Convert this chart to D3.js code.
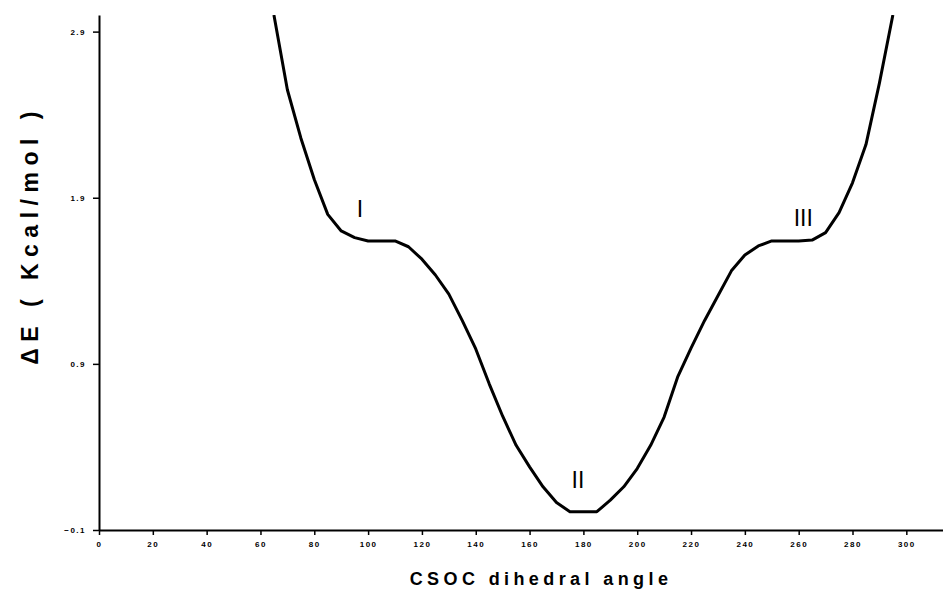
<!DOCTYPE html>
<html>
<head>
<meta charset="utf-8">
<script src="https://cdn.jsdelivr.net/npm/d3@7"></script>
<style>
  body { margin: 0; background: #fff; }
  svg { display: block; font-family: "Liberation Sans", Arial, sans-serif; }
</style>
</head>
<body>
<div id="main"></div>
<script>
// data (degrees, kcal/mol)
const angles = [65, 70, 75, 80, 85, 90, 95, 100, 105, 110, 115, 120, 125, 130, 135, 140,
    145, 150, 155, 160, 165, 170, 175, 180, 185, 190, 195, 200, 205, 210, 215, 220,
    225, 230, 235, 240, 245, 250, 255, 260, 265, 270, 275, 280, 285, 290, 295];
const energies = [3.0, 2.55, 2.26, 2.01, 1.80, 1.70, 1.66, 1.64, 1.64, 1.64, 1.605, 1.53, 1.435, 1.32, 1.16, 0.99,
    0.78, 0.585, 0.41, 0.28, 0.16, 0.065, 0.01, 0.01, 0.01, 0.08, 0.16, 0.27, 0.41, 0.58, 0.82, 0.995,
    1.16, 1.31, 1.46, 1.555, 1.61, 1.64, 1.64, 1.64, 1.645, 1.69, 1.81, 1.99, 2.22, 2.59, 3.0];
const xTicks = [0, 20, 40, 60, 80, 100, 120, 140, 160, 180, 200, 220, 240, 260, 280, 300];
const yTicks = [-0.1, 0.9, 1.9, 2.9];
const conformerNames = ['I', 'II', 'III'];
const conformerAngles = [97, 178, 261.7];
const conformerEnergies = [1.784, 0.153, 1.73];

const width = 943, height = 590;
const margin = { left: 99, top: 15, bottom: 60 };

const svg = d3.select('#main')
    .append('svg')
    .attr('width', width)
    .attr('height', height);

const xScale = d3.scaleLinear()
    .domain([0, 314])
    .range([margin.left, 944]);

const yScale = d3.scaleLinear()
    .domain([-0.1, 3.0])
    .range([height - margin.bottom, margin.top]);

// axes
const xAxis = svg.append('g')
    .attr('transform', `translate(0, ${yScale(-0.1)})`)
    .call(d3.axisBottom(xScale).tickValues(xTicks).tickSize(5).tickSizeOuter(0).tickPadding(6));

const yAxis = svg.append('g')
    .attr('transform', `translate(${margin.left}, 0)`)
    .call(d3.axisLeft(yScale).tickValues(yTicks).tickSize(6).tickSizeOuter(0).tickPadding(7)
        .tickFormat(d3.format('.1f')));

[xAxis, yAxis].forEach(ax => {
    ax.select('.domain').attr('stroke', '#000').attr('stroke-width', 2);
    ax.selectAll('.tick line').attr('stroke', '#000').attr('stroke-width', 1.5);
    ax.selectAll('.tick text')
        .attr('fill', '#000')
        .style('font-size', '8px')
        .style('font-weight', 'bold')
        .style('letter-spacing', '1.5px');
});

// clip curve to plot area
svg.append('clipPath').attr('id', 'plot')
    .append('rect')
    .attr('x', margin.left).attr('y', margin.top)
    .attr('width', width - margin.left).attr('height', yScale(-0.1) - margin.top);

svg.append('path')
    .datum(angles.map((a, i) => [a, energies[i]]))
    .attr('clip-path', 'url(#plot)')
    .attr('fill', 'none')
    .attr('stroke', '#000')
    .attr('stroke-width', 3)
    .attr('stroke-linejoin', 'round')
    .attr('d', d3.line()
        .x(d => xScale(d[0]))
        .y(d => yScale(d[1])));

// conformer labels
svg.selectAll('.conf')
    .data(conformerNames)
    .enter()
    .append('text')
    .attr('class', 'conf')
    .attr('x', (d, i) => xScale(conformerAngles[i]))
    .attr('y', (d, i) => yScale(conformerEnergies[i]))
    .attr('text-anchor', 'middle')
    .style('font-size', '23px')
    .text(d => d);

// axis titles
svg.append('text')
    .attr('x', 541)
    .attr('y', 585)
    .attr('text-anchor', 'middle')
    .style('font-size', '18px')
    .style('font-weight', 'bold')
    .style('letter-spacing', '4.4px')
    .text('CSOC dihedral angle');

svg.append('text')
    .attr('transform', 'translate(38, 235) rotate(-90)')
    .attr('text-anchor', 'middle')
    .style('font-size', '23px')
    .style('font-weight', 'bold')
    .style('letter-spacing', '6.5px')
    .text('ΔE ( Kcal/mol )');
</script>
</body>
</html>
